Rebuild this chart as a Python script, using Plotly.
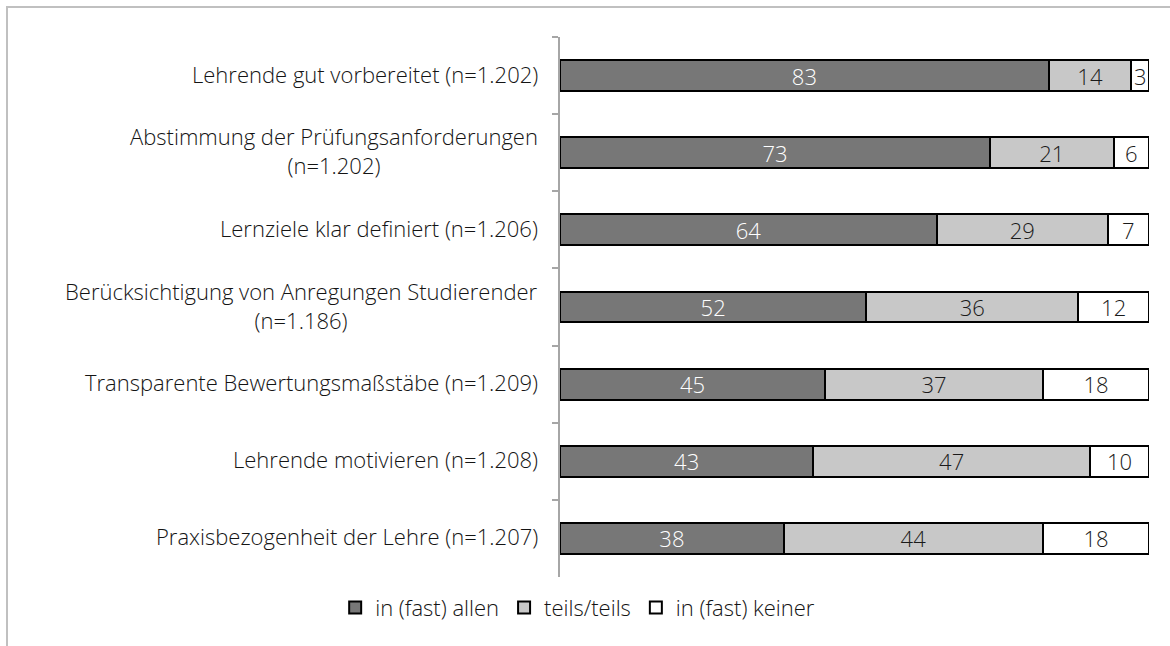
import plotly.graph_objects as go

# Survey items (top to bottom) and answer shares in percent
items = [
    "Lehrende gut vorbereitet (n=1.202)",
    "Abstimmung der Prüfungsanforderungen<br>(n=1.202)",
    "Lernziele klar definiert (n=1.206)",
    "Berücksichtigung von Anregungen Studierender<br>(n=1.186)",
    "Transparente Bewertungsmaßstäbe (n=1.209)",
    "Lehrende motivieren (n=1.208)",
    "Praxisbezogenheit der Lehre (n=1.207)",
]
alle = [83, 73, 64, 52, 45, 43, 38]
teils = [14, 21, 29, 36, 37, 47, 44]
keiner = [3, 6, 7, 12, 18, 10, 18]

series_names = ["in (fast) allen", "teils/teils", "in (fast) keiner"]
series_values = [alle, teils, keiner]
fill_colors = ["#777777", "#c8c8c8", "#ffffff"]
text_colors = ["#ffffff", "#1a1a1a", "#1a1a1a"]

FONT = "Open Sans"
FS = 22
WEIGHT = 300
INK = "#141414"

fig = go.Figure()
for name, vals, fc, tc in zip(series_names, series_values, fill_colors, text_colors):
    fig.add_trace(go.Bar(
        y=items, x=vals, name=name, orientation="h",
        marker=dict(color=fc, line=dict(color="#000000", width=2)),
        text=[str(v) for v in vals], textposition="inside", textangle=0,
        insidetextanchor="middle", constraintext="none",
        textfont=dict(family=FONT, size=FS, color=tc, weight=WEIGHT),
        hoverinfo="skip",
    ))

# Category labels, centred multi-line blocks left of the axis
for lab in items:
    fig.add_annotation(
        x=-0.034, y=lab, xref="paper", yref="y", xanchor="right",
        yanchor="middle", align="center", showarrow=False, text=lab,
        yshift=2,
        font=dict(family=FONT, size=FS, color=INK, weight=WEIGHT),
    )

# Light frame around the chart
W, H = 1170, 646
L, R, T, B = 560, 21, 37, 69
pw, ph = W - L - R, H - T - B
def px_x(p):
    return (p - L) / pw
def px_y(p):
    return (H - B - p) / ph
fig.add_shape(type="rect", xref="paper", yref="paper",
              x0=px_x(7), x1=px_x(1180), y0=px_y(7), y1=px_y(660),
              line=dict(color="#c0c0c0", width=2), fillcolor="rgba(0,0,0,0)",
              layer="below")

fig.update_layout(
    width=W, height=H, barmode="stack", bargap=0.6,
    margin=dict(l=L, r=R, t=T, b=B),
    paper_bgcolor="#ffffff", plot_bgcolor="#ffffff",
    font=dict(family=FONT, size=FS, color=INK, weight=WEIGHT),
    uniformtext=dict(minsize=FS, mode="show"),
    showlegend=True,
    legend=dict(orientation="h", x=0.03, xanchor="center", y=-0.057,
                yanchor="middle",
                font=dict(family=FONT, size=FS, color=INK, weight=WEIGHT),
                traceorder="normal", itemwidth=30, bgcolor="rgba(0,0,0,0)"),
    xaxis=dict(range=[0, 100], visible=False, fixedrange=True),
    yaxis=dict(autorange="reversed", showticklabels=False, showgrid=False,
               showline=True, linecolor="#a6a6a6", linewidth=1.5,
               ticks="outside", tickson="boundaries", ticklen=6,
               tickcolor="#a6a6a6", tickwidth=1.5, zeroline=False),
)

fig.write_html("out.html")
